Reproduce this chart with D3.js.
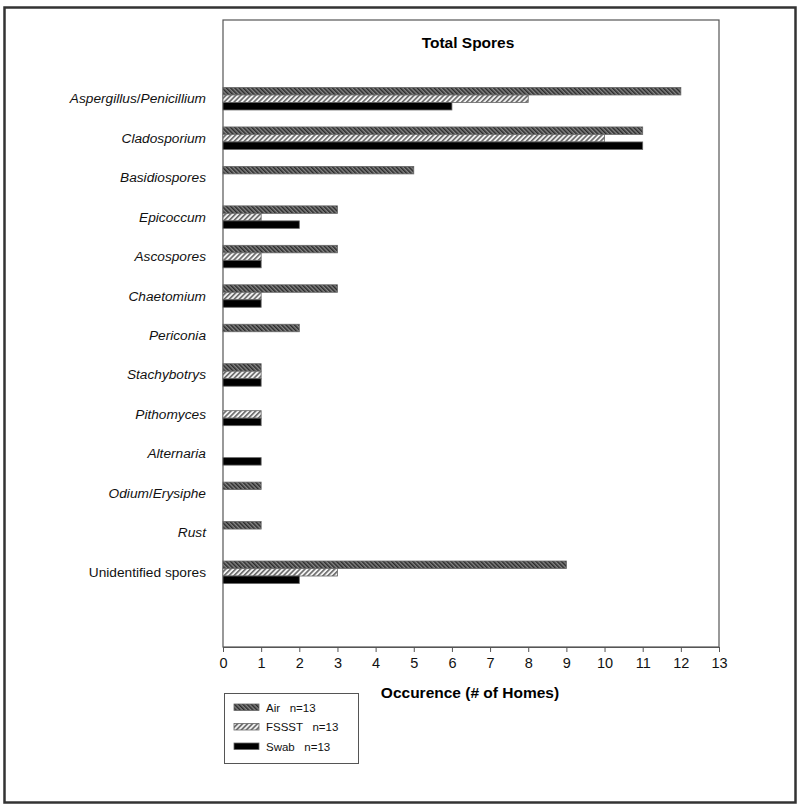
<!DOCTYPE html>
<html>
<head>
<meta charset="utf-8">
<script src="https://cdn.jsdelivr.net/npm/d3@7"></script>
<style>
  body { margin: 0; background: #fff; }
  text { font-family: Arial, "Liberation Sans", sans-serif; }
</style>
</head>
<body>
<div id="chart"></div>
<script>
// categories (top to bottom), italic parts split by "/"
const categories = [
  "Aspergillus/Penicillium", "Cladosporium", "Basidiospores", "Epicoccum",
  "Ascospores", "Chaetomium", "Periconia", "Stachybotrys", "Pithomyces",
  "Alternaria", "Odium/Erysiphe", "Rust", "Unidentified spores"
];
const series = ["Air", "FSSST", "Swab"];
const seriesLabels = ["Air   n=13", "FSSST   n=13", "Swab   n=13"];
const airValues = [12, 11, 5, 3, 3, 3, 2, 1, 0, 0, 1, 1, 9];
const fssstValues = [8, 10, 0, 1, 1, 1, 0, 1, 1, 0, 0, 0, 3];
const swabValues = [6, 11, 0, 2, 1, 1, 0, 1, 1, 1, 0, 0, 2];
const xTicks = d3.range(0, 14);

const W = 800, H = 811;
const plot = { left: 223, right: 719, top: 20, bottom: 647 };

const svg = d3.select("#chart").append("svg")
  .attr("width", W).attr("height", H);

// hatch patterns
const defs = svg.append("defs");
const pAir = defs.append("pattern")
  .attr("id", "hatchAir").attr("patternUnits", "userSpaceOnUse")
  .attr("width", 3).attr("height", 3)
  .attr("patternTransform", "rotate(-45)");
pAir.append("rect").attr("width", 3).attr("height", 3).attr("fill", "#858585");
pAir.append("rect").attr("width", 1.5).attr("height", 3).attr("fill", "#2a2a2a");

const pF = defs.append("pattern")
  .attr("id", "hatchF").attr("patternUnits", "userSpaceOnUse")
  .attr("width", 3.5).attr("height", 3.5)
  .attr("patternTransform", "rotate(45)");
pF.append("rect").attr("width", 3.5).attr("height", 3.5).attr("fill", "#f2f2f2");
pF.append("rect").attr("width", 1.6).attr("height", 3.5).attr("fill", "#666");

const fills = ["url(#hatchAir)", "url(#hatchF)", "#000"];

// outer frame
svg.append("rect")
  .attr("x", 4.5).attr("y", 7.5).attr("width", 791).attr("height", 795)
  .attr("fill", "none").attr("stroke", "#333").attr("stroke-width", 2.5);

const x = d3.scaleLinear().domain([0, 13]).range([plot.left, plot.right]);
const y = d3.scaleBand().domain(categories).range([79, 592]).paddingInner(0.43).paddingOuter(0.215);
const ySub = d3.scaleBand().domain(series).range([0, y.bandwidth()]);

// plot frame
svg.append("rect")
  .attr("x", plot.left).attr("y", plot.top)
  .attr("width", plot.right - plot.left).attr("height", plot.bottom - plot.top)
  .attr("fill", "none").attr("stroke", "#555").attr("stroke-width", 1.2);

svg.append("text")
  .attr("x", (plot.left + plot.right) / 2 - 3).attr("y", 48)
  .attr("text-anchor", "middle").attr("font-size", 15.5).attr("font-weight", "bold")
  .text("Total Spores");

// bars
const rows = categories.map((c, i) => ({
  cat: c, vals: [airValues[i], fssstValues[i], swabValues[i]]
}));
const groups = svg.append("g").selectAll("g").data(rows).enter().append("g")
  .attr("transform", d => `translate(0,${y(d.cat)})`);
groups.selectAll("rect")
  .data(d => d.vals.map((v, j) => ({ v, s: series[j], j })).filter(e => e.v > 0))
  .enter().append("rect")
  .attr("x", x(0))
  .attr("y", d => ySub(d.s))
  .attr("width", d => x(d.v) - x(0))
  .attr("height", ySub.bandwidth())
  .attr("fill", d => fills[d.j])
  .attr("stroke", "#666").attr("stroke-width", 0.8);

// category labels
const lab = svg.append("g").selectAll("text").data(categories).enter().append("text")
  .attr("x", 206)
  .attr("y", d => y(d) + y.bandwidth() / 2 + 4.5)
  .attr("text-anchor", "end").attr("font-size", 13.7).attr("fill", "#111");
lab.each(function (d) {
  const t = d3.select(this);
  if (d === "Unidentified spores") { t.text(d); return; }
  const parts = d.split("/");
  parts.forEach((p, k) => {
    if (k > 0) t.append("tspan").text("/");
    t.append("tspan").attr("font-style", "italic").text(p);
  });
});

// x axis
const xAxis = svg.append("g")
  .attr("transform", `translate(0,${plot.bottom})`)
  .call(d3.axisBottom(x).tickValues(xTicks).tickSize(5).tickSizeOuter(0).tickPadding(6));
xAxis.select(".domain").attr("stroke", "#555");
xAxis.selectAll(".tick line").attr("stroke", "#555");
xAxis.selectAll(".tick text")
  .attr("font-size", 14.5).attr("fill", "#111")
  .attr("font-family", "Arial, 'Liberation Sans', sans-serif");

svg.append("text")
  .attr("x", 470).attr("y", 698)
  .attr("text-anchor", "middle").attr("font-size", 15.5).attr("font-weight", "bold")
  .text("Occurence (# of Homes)");

// legend
const lg = svg.append("g");
lg.append("rect")
  .attr("x", 224.5).attr("y", 693.5).attr("width", 134).attr("height", 70)
  .attr("fill", "#fff").attr("stroke", "#555").attr("stroke-width", 1);
series.forEach((s, j) => {
  const yy = 704 + j * 19.5;
  lg.append("rect")
    .attr("x", 234).attr("y", yy).attr("width", 25).attr("height", 6.5)
    .attr("fill", fills[j]).attr("stroke", "#666").attr("stroke-width", 0.8);
  lg.append("text")
    .attr("x", 266).attr("y", yy + 7.5)
    .attr("font-size", 11.5).attr("fill", "#111")
    .style("white-space", "pre")
    .text(seriesLabels[j]);
});
</script>
</body>
</html>
